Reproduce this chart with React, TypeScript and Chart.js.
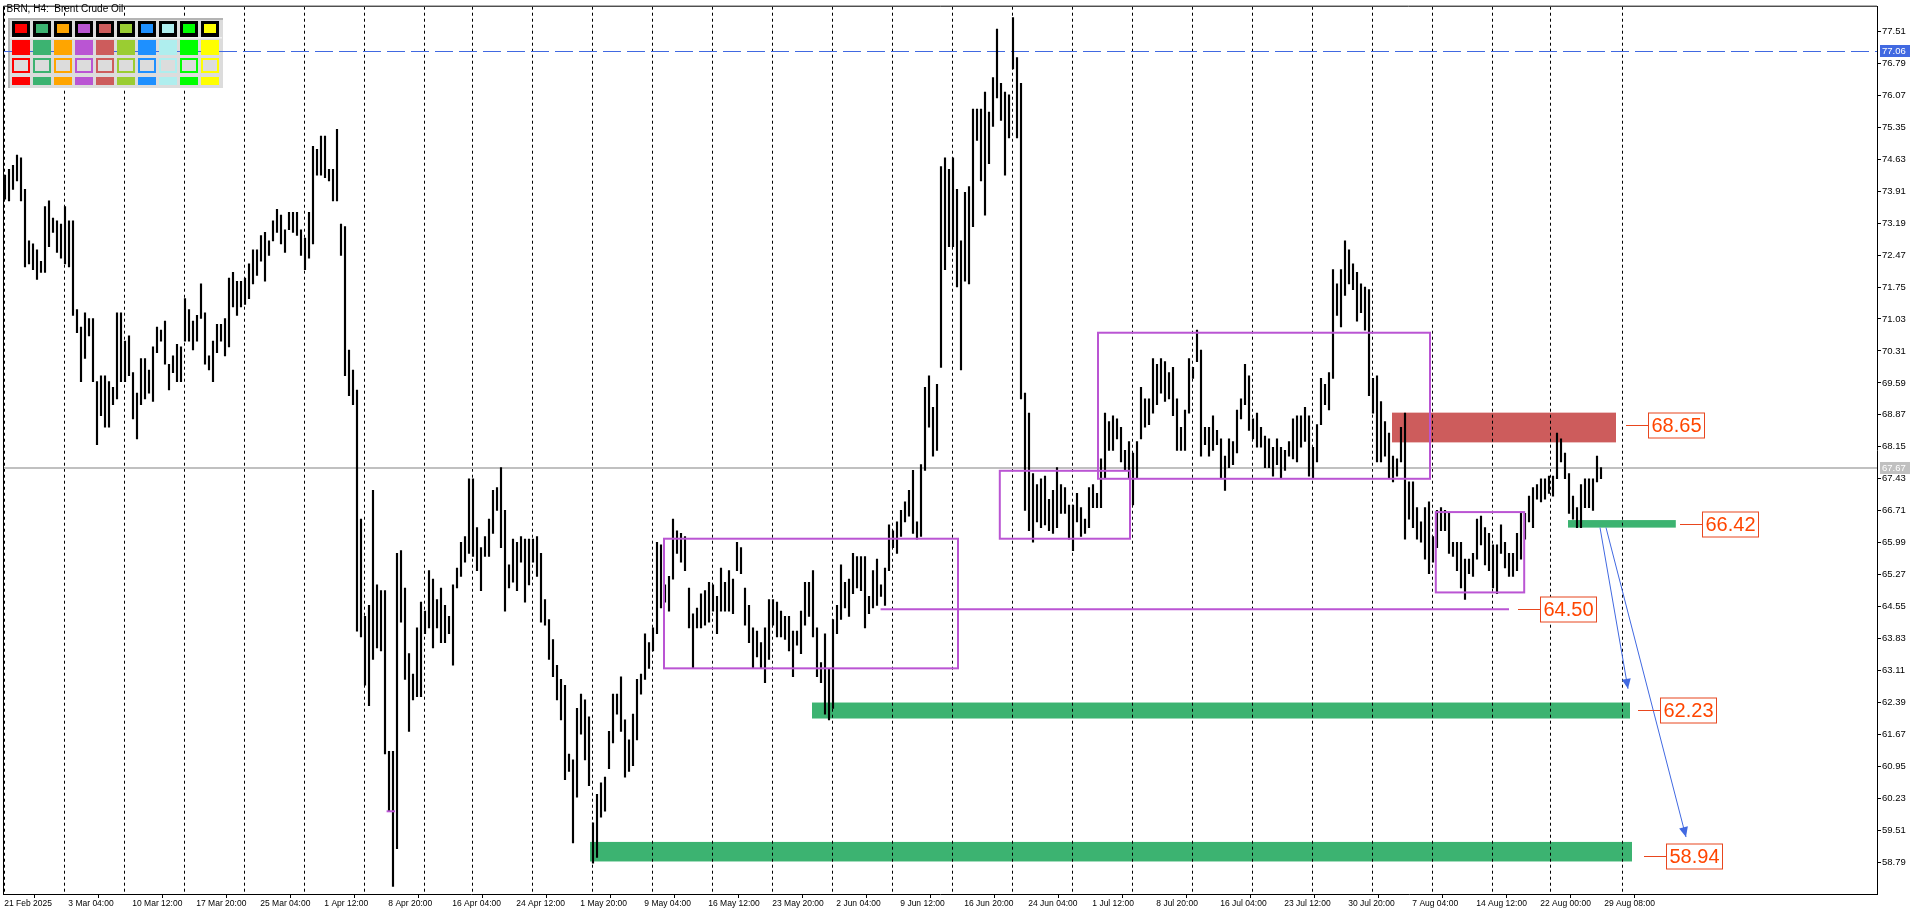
import React, { useEffect, useRef } from "react";
import { Chart, registerables } from "chart.js";

Chart.register(...registerables);

// ---- H4 bars (each entry = high/low of one drawn bar) ----
const highs: number[] = [
  74.27, 74.40, 74.49, 74.72, 74.66, 73.95, 72.79, 72.72, 72.59, 72.33,
  73.56, 73.69, 73.30, 73.24, 73.17, 73.56, 73.24, 73.24, 71.24, 70.85,
  71.17, 71.04, 71.04, 69.62, 69.75, 69.75, 69.62, 69.49, 71.17, 71.17,
  70.53, 70.65, 69.82, 69.36, 70.14, 70.14, 69.88, 70.40, 70.85, 70.78,
  70.98, 70.01, 70.20, 70.46, 70.40, 71.49, 71.24, 70.98, 71.11, 71.82,
  71.17, 70.20, 70.53, 70.91, 70.91, 71.04, 71.95, 72.08, 71.88, 71.88,
  71.95, 72.27, 72.59, 72.59, 72.91, 72.98, 72.79, 73.24, 73.50, 73.37,
  73.04, 73.43, 73.43, 73.43, 73.04, 72.85, 73.43, 74.92, 74.85, 75.15,
  75.15, 74.40, 74.40, 75.30, 73.17, 73.11, 70.33, 69.88, 69.43, 66.52,
  64.33, 64.58, 67.17, 65.04, 64.91, 64.91, 61.29, 61.29, 65.75,
  65.81, 64.97, 63.49, 63.03, 64.07, 64.65, 64.45, 65.36, 65.17, 64.71,
  64.97, 64.58, 64.33, 65.04, 65.42, 66.00, 66.13, 67.43, 67.43, 66.33,
  65.88, 66.13, 66.52, 67.17, 67.23, 67.68, 66.72, 65.49, 66.07, 66.00,
  66.13, 66.07, 66.07, 66.07, 66.13, 65.75, 64.71, 64.26, 63.81, 63.23,
  62.91, 62.78, 61.23, 61.10, 62.26, 62.58, 62.45, 62.07, 59.68, 60.32,
  60.58, 60.71, 61.74, 62.58, 62.58, 62.97, 62.00, 61.55, 62.13, 62.91,
  63.03, 63.94, 63.74, 64.07, 66.00, 65.94, 65.04, 65.23, 66.52, 66.26,
  66.20, 66.13, 64.97, 64.39, 64.52, 64.84, 64.91, 65.10, 65.04, 64.78,
  65.42, 65.10, 65.36, 65.17, 66.00, 65.88, 64.97, 64.58, 64.07, 64.00,
  63.74, 64.07, 64.71, 64.71, 64.65, 64.45, 64.33, 64.33, 64.00, 64.00,
  64.45, 65.10, 65.10, 65.36, 64.07, 63.29, 63.94, 63.16, 64.26, 64.58,
  65.49, 65.10, 65.17, 65.75, 65.68, 65.68, 65.68, 64.78, 65.36, 65.62,
  65.04, 65.42, 66.39, 66.26, 66.46, 66.72, 66.91, 67.17, 67.62, 66.46,
  67.75, 69.49, 69.75, 69.04, 69.56, 74.46, 74.66, 74.40, 74.66, 73.95,
  72.79, 73.88, 74.01, 75.76, 75.76, 75.76, 76.14, 75.69, 76.47, 77.56,
  76.34, 76.14, 76.08, 77.82, 76.92, 76.34, 69.36, 68.91, 67.55, 67.30,
  67.43, 67.49, 66.97, 67.17, 67.68, 67.30, 67.23, 66.84, 66.84, 67.10,
  66.78, 66.52, 67.23, 67.30, 67.10, 67.88, 68.91, 68.72, 68.85, 68.78,
  68.59, 68.07, 68.27, 68.01, 68.27, 69.49, 69.23, 69.23, 70.14, 70.01,
  70.14, 70.07, 69.82, 69.94, 69.23, 68.59, 68.98, 70.14, 69.94, 70.78,
  70.33, 68.59, 68.59, 68.85, 68.52, 68.33, 67.94, 68.33, 68.27, 68.98,
  69.23, 70.01, 69.75, 68.78, 68.91, 68.59, 68.39, 68.33, 68.14, 68.33,
  68.14, 68.07, 68.27, 68.78, 68.85, 68.85, 69.04, 68.85, 68.14, 68.65,
  69.69, 69.56, 69.82, 72.14, 71.82, 72.14, 72.79, 72.59, 72.27, 72.08,
  71.82, 71.75, 71.69, 69.69, 69.75, 69.17, 68.72, 68.46, 67.94, 67.88,
  68.59, 68.91, 67.36, 67.36, 66.78, 66.46, 66.78, 66.91, 66.13, 66.72,
  66.78, 66.72, 66.65, 66.00, 66.00, 66.00, 65.62, 65.62, 65.75, 66.52,
  66.59, 66.33, 66.20, 65.94, 65.94, 66.39, 66.00, 65.75, 65.75, 66.20,
  66.65, 66.65, 67.04, 67.23, 67.30, 67.43, 67.43, 67.49, 67.49, 68.46,
  68.33, 68.01, 67.55, 67.04, 66.78, 67.30, 67.43, 67.43, 67.43, 67.94,
  67.68,
];

const lows: number[] = [
  73.73, 73.69, 73.95, 74.14, 73.69, 72.20, 72.27, 72.14, 71.92, 72.08,
  72.08, 72.66, 72.98, 72.53, 72.40, 72.27, 72.20, 71.11, 70.72, 69.62,
  70.14, 70.65, 69.62, 68.20, 68.85, 68.59, 68.59, 69.10, 69.23, 69.62,
  69.62, 69.75, 68.78, 68.33, 69.10, 69.23, 69.36, 69.17, 70.27, 70.53,
  70.01, 69.43, 69.82, 69.62, 69.62, 70.53, 70.53, 70.33, 70.53, 71.04,
  70.01, 69.88, 69.62, 70.27, 70.53, 70.20, 70.40, 71.30, 71.11, 71.30,
  71.36, 71.49, 71.82, 72.01, 72.33, 71.88, 72.46, 72.79, 72.98, 72.72,
  72.53, 73.04, 72.98, 72.91, 72.46, 72.14, 72.40, 72.72, 74.27, 74.27,
  74.21, 74.14, 73.69, 73.69, 72.46, 69.75, 69.30, 69.10, 64.00, 63.87,
  62.78, 62.32, 63.36, 63.62, 63.55, 61.23, 59.94, 58.25, 59.10,
  64.20, 62.91, 61.74, 62.45, 62.52, 62.52, 63.94, 64.07, 63.62, 64.07,
  63.74, 63.74, 63.94, 63.23, 64.97, 65.23, 65.55, 65.75, 65.68, 65.36,
  64.91, 65.68, 65.68, 66.20, 66.72, 65.88, 64.45, 64.97, 65.10, 64.91,
  65.55, 64.65, 65.04, 65.55, 65.23, 64.20, 64.13, 63.36, 62.97, 62.45,
  62.00, 60.65, 60.84, 59.23, 60.26, 61.68, 61.10, 60.52, 58.77, 58.90,
  59.81, 59.94, 60.90, 61.48, 62.13, 61.74, 60.71, 60.84, 60.97, 61.55,
  62.58, 62.91, 63.16, 63.55, 63.94, 64.52, 64.65, 64.45, 65.17, 65.75,
  65.55, 65.36, 64.07, 63.16, 64.07, 64.07, 64.13, 64.20, 64.45, 63.94,
  64.45, 64.45, 64.45, 64.39, 65.36, 65.29, 64.13, 63.74, 63.16, 63.42,
  63.16, 62.84, 63.36, 64.13, 63.87, 63.87, 63.81, 63.55, 62.97, 63.68,
  63.49, 64.13, 64.33, 63.87, 62.97, 62.84, 62.13, 62.00, 62.26, 63.94,
  64.26, 64.52, 64.33, 64.84, 64.97, 64.91, 64.07, 64.39, 64.52, 64.58,
  64.78, 64.58, 65.36, 65.88, 65.75, 66.13, 66.46, 66.59, 66.20, 66.07,
  66.13, 67.62, 68.59, 67.94, 68.07, 69.94, 72.14, 72.66, 72.66, 71.75,
  69.88, 71.88, 71.82, 73.11, 75.05, 74.14, 73.37, 74.53, 75.37, 76.01,
  75.50, 74.27, 75.11, 76.66, 75.11, 69.23, 66.72, 66.26, 66.00, 66.46,
  66.33, 66.39, 66.26, 66.20, 66.33, 66.65, 66.65, 66.07, 65.81, 66.46,
  66.13, 66.20, 66.33, 66.78, 66.78, 66.78, 67.43, 68.07, 68.07, 68.33,
  67.81, 67.62, 67.43, 66.84, 67.43, 68.33, 68.59, 68.65, 68.91, 69.10,
  69.36, 69.17, 69.23, 68.85, 68.07, 68.07, 68.07, 68.91, 69.69, 70.07,
  67.94, 68.20, 67.94, 68.07, 68.20, 67.43, 67.17, 67.68, 67.75, 68.01,
  68.78, 69.10, 68.52, 68.33, 68.14, 68.14, 67.68, 67.68, 67.49, 67.75,
  67.43, 67.62, 67.94, 67.88, 67.81, 68.14, 68.27, 67.49, 67.43, 67.81,
  68.65, 69.10, 68.98, 69.69, 71.11, 70.85, 71.56, 71.82, 71.69, 70.98,
  71.17, 70.78, 69.30, 68.91, 67.81, 67.81, 67.94, 67.43, 67.36, 67.49,
  67.81, 66.07, 66.52, 66.33, 66.07, 66.00, 65.62, 65.29, 65.55, 65.88,
  66.26, 66.26, 65.75, 65.68, 65.36, 64.97, 64.71, 65.29, 65.23, 65.62,
  65.94, 65.49, 65.36, 64.97, 64.84, 65.75, 65.42, 65.23, 65.23, 65.36,
  65.62, 66.07, 66.46, 66.33, 66.97, 66.91, 66.97, 67.10, 67.04, 67.43,
  67.81, 67.43, 66.65, 66.52, 66.33, 66.33, 66.78, 66.78, 66.72, 67.36,
  67.43,
];

// ---- axes ----
const priceTicks = [
  58.79, 59.51, 60.23, 60.95, 61.67, 62.39, 63.11, 63.83, 64.55, 65.27,
  65.99, 66.71, 67.43, 68.15, 68.87, 69.59, 70.31, 71.03, 71.75, 72.47,
  73.19, 73.91, 74.63, 75.35, 76.07, 76.79, 77.51,
];
const timeTickIdx = [
  -0.675, 15.325, 31.325, 47.325, 63.325, 79.325, 95.325, 111.325, 127.325,
  143.325, 159.325, 175.325, 191.325, 207.325, 223.325, 239.325, 255.325,
  271.325, 287.325, 303.325, 319.325, 335.325, 351.325, 367.325, 383.325, 399.325,
];
const timeTickLabels = [
  "21 Feb 2025", "3 Mar 04:00", "10 Mar 12:00", "17 Mar 20:00", "25 Mar 04:00",
  "1 Apr 12:00", "8 Apr 20:00", "16 Apr 04:00", "24 Apr 12:00", "1 May 20:00",
  "9 May 04:00", "16 May 12:00", "23 May 20:00", "2 Jun 04:00", "9 Jun 12:00",
  "16 Jun 20:00", "24 Jun 04:00", "1 Jul 12:00", "8 Jul 20:00", "16 Jul 04:00",
  "23 Jul 12:00", "30 Jul 20:00", "7 Aug 04:00", "14 Aug 12:00", "22 Aug 00:00",
  "29 Aug 08:00",
];
const weekSeparators = [
  -0.175, 14.825, 29.825, 44.825, 59.825, 74.825, 89.825, 104.825, 116.825,
  131.825, 146.825, 161.825, 176.825, 191.825, 206.825, 221.825, 236.825,
  251.825, 266.825, 281.825, 296.825, 311.825, 326.825, 341.825, 356.825,
  371.825, 386.325, 404.325,
];
const xMin = -0.5;
const xMax = 468;
const yMin = 58.077;
const yMax = 78.064;

// ---- objects on the chart (bar index / price) ----
const askPrice = 77.06;
const bidPrice = 67.67;
const demandZones = [
  [390.75, 417.7, 66.5, 66.33],
  [201.75, 406.25, 62.39, 62.03],
  [146.25, 406.75, 59.25, 58.81],
];
const supplyZones = [[346.75, 402.75, 68.92, 68.25]];
const rangeBoxes = [
  [164.75, 238.25, 66.08, 63.16],
  [248.7, 281.25, 67.61, 66.08],
  [273.25, 356.25, 70.72, 67.43],
  [357.7, 379.8, 66.68, 64.87],
];
const pivotLines = [
  [218.9, 376, 64.49],
  [95.4, 97.5, 59.94],
];
const levelPrices = [68.65, 66.42, 64.5, 62.23, 58.94];
const levelLabels = ["68.65", "66.42", "64.50", "62.23", "58.94"];
const levelLeaderIdx = [405.25, 418.75, 378.25, 408.25, 409.75];
const arrowPaths = [
  [398.75, 66.33, 405.75, 62.7],
  [400.25, 66.33, 420.25, 59.36],
];
const paletteColors = [
  "#FF0000", "#3CB371", "#FFA500", "#BA55D3", "#CD5C5C",
  "#9ACD32", "#1E90FF", "#AFEEEE", "#00FF00", "#FFFF00",
];
const chartTitle = "BRN, H4:  Brent Crude Oil";

const FONT = "'Liberation Sans', Arial, sans-serif";

const overlay = {
  id: "mtOverlay",
  beforeDatasetsDraw(chart: any) {
    const { ctx, chartArea: a, scales } = chart;
    const x = scales.x;
    const y = scales.y;
    ctx.save();
    ctx.beginPath();
    ctx.rect(a.left, a.top, a.right - a.left, a.bottom - a.top);
    ctx.clip();
    const fillZone = (z: number[], color: string) => {
      const x0 = x.getPixelForValue(z[0]);
      const x1 = x.getPixelForValue(z[1]);
      const y0 = y.getPixelForValue(z[2]);
      const y1 = y.getPixelForValue(z[3]);
      ctx.fillStyle = color;
      ctx.fillRect(x0, y0, x1 - x0, y1 - y0);
    };
    demandZones.forEach((z) => fillZone(z, "#3CB371"));
    supplyZones.forEach((z) => fillZone(z, "#CD5C5C"));
    // weekly separators
    ctx.strokeStyle = "#000";
    ctx.lineWidth = 1;
    ctx.setLineDash([3, 3]);
    weekSeparators.forEach((w) => {
      const px = Math.round(x.getPixelForValue(w)) + 0.5;
      ctx.beginPath();
      ctx.moveTo(px, a.top);
      ctx.lineTo(px, a.bottom);
      ctx.stroke();
    });
    ctx.setLineDash([]);
    // bid line
    const by = Math.round(y.getPixelForValue(bidPrice));
    ctx.strokeStyle = "#C0C0C0";
    ctx.lineWidth = 2;
    ctx.beginPath();
    ctx.moveTo(a.left, by);
    ctx.lineTo(a.right, by);
    ctx.stroke();
    // palette panel background
    ctx.fillStyle = "#DCDCDC";
    ctx.fillRect(8, 18, 215, 70);
    ctx.fillStyle = "#B4B4B4";
    ctx.fillRect(8, 18, 215, 2);
    ctx.fillRect(8, 18, 2, 70);
    ctx.fillStyle = "#F2F2F2";
    ctx.fillRect(10, 37, 212, 1.5);
    // ask line
    const ay = Math.round(y.getPixelForValue(askPrice)) + 0.5;
    ctx.strokeStyle = "#4169E1";
    ctx.lineWidth = 1;
    ctx.setLineDash([18, 6]);
    ctx.beginPath();
    ctx.moveTo(a.left, ay);
    ctx.lineTo(a.right, ay);
    ctx.stroke();
    ctx.setLineDash([]);
    // palette swatches
    paletteColors.forEach((c, k) => {
      const sx = 12 + 21 * k;
      ctx.fillStyle = "#000";
      ctx.fillRect(sx, 21, 18, 16);
      ctx.fillStyle = c;
      ctx.fillRect(sx + 3, 24, 12, 9);
      ctx.fillStyle = c;
      ctx.fillRect(sx, 40, 18, 15);
      ctx.fillRect(sx, 58, 18, 15);
      ctx.fillStyle = "#DCDCDC";
      ctx.fillRect(sx + 2, 60, 14, 11);
      ctx.fillStyle = c;
      ctx.fillRect(sx, 77, 18, 8);
    });
    ctx.restore();
  },
  afterDatasetsDraw(chart: any) {
    const { ctx, scales } = chart;
    const x = scales.x;
    const y = scales.y;
    ctx.save();
    ctx.strokeStyle = "#BA55D3";
    ctx.lineWidth = 2;
    rangeBoxes.forEach((b) => {
      const x0 = x.getPixelForValue(b[0]);
      const x1 = x.getPixelForValue(b[1]);
      const y0 = y.getPixelForValue(b[2]);
      const y1 = y.getPixelForValue(b[3]);
      ctx.strokeRect(x0, y0, x1 - x0, y1 - y0);
    });
    pivotLines.forEach((l) => {
      const py = y.getPixelForValue(l[2]);
      ctx.beginPath();
      ctx.moveTo(x.getPixelForValue(l[0]), py);
      ctx.lineTo(x.getPixelForValue(l[1]), py);
      ctx.stroke();
    });
    // arrows
    ctx.strokeStyle = "#4169E1";
    ctx.fillStyle = "#4169E1";
    ctx.lineWidth = 1;
    arrowPaths.forEach((p) => {
      const x0 = x.getPixelForValue(p[0]);
      const y0 = y.getPixelForValue(p[1]);
      const x1 = x.getPixelForValue(p[2]);
      const y1 = y.getPixelForValue(p[3]);
      ctx.beginPath();
      ctx.moveTo(x0, y0);
      ctx.lineTo(x1, y1);
      ctx.stroke();
      const ang = Math.atan2(y1 - y0, x1 - x0);
      const L = 10;
      const W = 4.5;
      const bx = x1 - L * Math.cos(ang);
      const byy = y1 - L * Math.sin(ang);
      ctx.beginPath();
      ctx.moveTo(x1, y1);
      ctx.lineTo(bx + W * Math.sin(ang), byy - W * Math.cos(ang));
      ctx.lineTo(bx - W * Math.sin(ang), byy + W * Math.cos(ang));
      ctx.closePath();
      ctx.fill();
    });
    // level labels
    ctx.font = `20px ${FONT}`;
    ctx.textBaseline = "middle";
    ctx.textAlign = "left";
    levelPrices.forEach((p, k) => {
      const py = Math.round(y.getPixelForValue(p)) + 0.5;
      const lx = x.getPixelForValue(levelLeaderIdx[k]);
      const bx = Math.round(lx + 22) + 0.5;
      const w = Math.round(ctx.measureText(levelLabels[k]).width + 6);
      ctx.strokeStyle = "#E8461E";
      ctx.lineWidth = 1;
      ctx.beginPath();
      ctx.moveTo(lx, py);
      ctx.lineTo(bx, py);
      ctx.stroke();
      ctx.fillStyle = "#FFFFFF";
      ctx.fillRect(bx, py - 12.5, w, 25);
      ctx.strokeRect(bx, py - 12.5, w, 25);
      ctx.fillStyle = "#FF4500";
      ctx.fillText(levelLabels[k], bx + 3, py + 1);
    });
    // title
    ctx.fillStyle = "#000";
    ctx.font = `10px ${FONT}`;
    ctx.textBaseline = "top";
    ctx.fillText(chartTitle, 6.5, 4);
    ctx.restore();
  },
  afterDraw(chart: any) {
    const { ctx, chartArea: a, scales } = chart;
    const y = scales.y;
    ctx.save();
    ctx.strokeStyle = "#000";
    ctx.lineWidth = 1;
    ctx.beginPath();
    ctx.moveTo(a.left + 0.5, a.bottom);
    ctx.lineTo(a.left + 0.5, a.top - 0.5);
    ctx.lineTo(a.right, a.top - 0.5);
    ctx.stroke();
    const tag = (p: number, bg: string) => {
      const py = y.getPixelForValue(p);
      ctx.fillStyle = bg;
      ctx.fillRect(a.right + 3, Math.round(py) - 6, 30, 12);
      ctx.fillStyle = "#FFFFFF";
      ctx.font = `9.5px ${FONT}`;
      ctx.textBaseline = "middle";
      ctx.textAlign = "left";
      ctx.fillText(p.toFixed(2), a.right + 5, Math.round(py) + 0.5);
    };
    tag(askPrice, "#4169E1");
    tag(bidPrice, "#C0C0C0");
    ctx.restore();
  },
};

export default function App() {
  const ref = useRef<HTMLCanvasElement>(null);
  useEffect(() => {
    document.body.style.margin = "0";
    const canvas = ref.current;
    if (!canvas) return;
    const barData = highs.map((h, i) => ({ x: i, y: [lows[i], h] }));
    const chart = new Chart(canvas, {
      type: "bar",
      data: {
        datasets: [
          {
            data: barData as any,
            backgroundColor: "#000000",
            borderWidth: 0,
            barThickness: 1.5,
            grouped: false,
          } as any,
        ],
      },
      options: {
        animation: false,
        responsive: false,
        devicePixelRatio: 1,
        events: [],
        layout: { padding: { left: 3, top: 3, right: 0, bottom: 0 } },
        plugins: { legend: { display: false }, tooltip: { enabled: false } },
        scales: {
          x: {
            type: "linear",
            min: xMin,
            max: xMax,
            offset: false,
            afterBuildTicks: (s: any) => {
              s.ticks = timeTickIdx.map((v) => ({ value: v }));
            },
            afterFit: (s: any) => {
              s.height = 21;
            },
            ticks: {
              autoSkip: false,
              maxRotation: 0,
              minRotation: 0,
              align: "start",
              labelOffset: 2,
              padding: 1,
              color: "#000",
              font: { family: FONT, size: 8.5 },
              callback: (_v: any, i: number) => timeTickLabels[i],
            },
            grid: { drawOnChartArea: false, drawTicks: true, tickLength: 4, color: "#000" },
            border: { display: true, color: "#000", width: 1 },
          } as any,
          y: {
            type: "linear",
            position: "right",
            min: yMin,
            max: yMax,
            afterBuildTicks: (s: any) => {
              s.ticks = priceTicks.map((v) => ({ value: v }));
            },
            afterFit: (s: any) => {
              s.width = 43;
            },
            ticks: {
              color: "#000",
              padding: 1,
              font: { family: FONT, size: 9.5 },
              callback: (v: any) => Number(v).toFixed(2),
            },
            grid: { drawOnChartArea: false, drawTicks: true, tickLength: 4, color: "#000" },
            border: { display: true, color: "#000", width: 1 },
          } as any,
        },
      },
      plugins: [overlay],
    });
    return () => chart.destroy();
  }, []);
  return (
    <canvas
      ref={ref}
      width={1920}
      height={915}
      style={{ display: "block", width: "1920px", height: "915px" }}
    />
  );
}
